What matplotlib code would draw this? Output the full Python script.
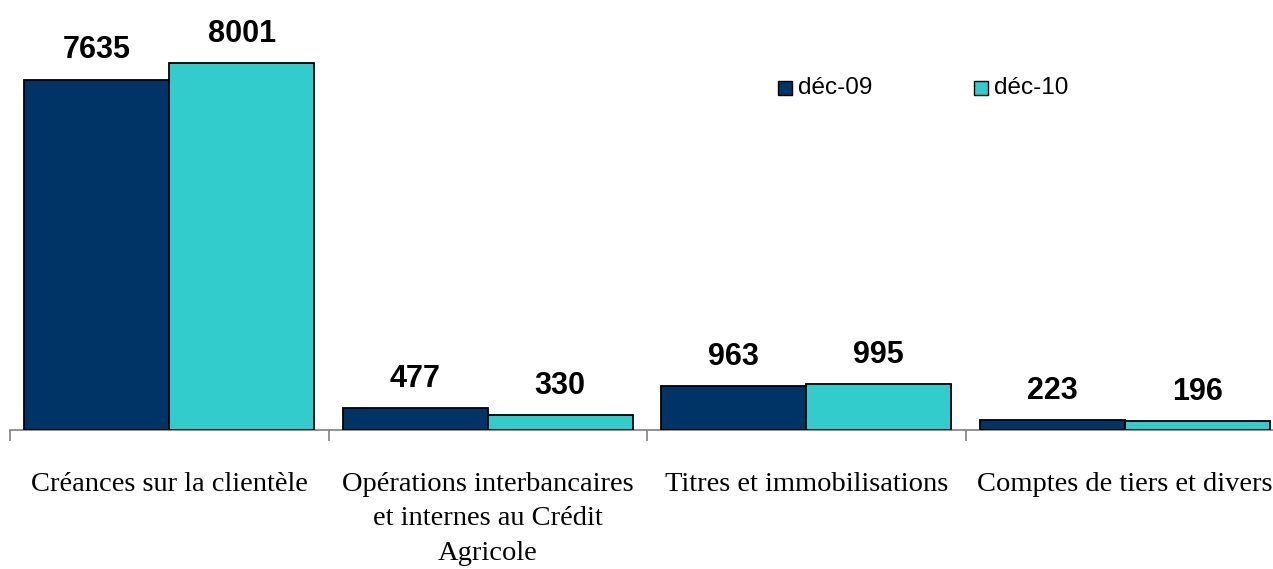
import matplotlib
matplotlib.use("Agg")
import matplotlib.pyplot as plt
import numpy as np
from matplotlib.patches import Rectangle

categories = ["Créances sur la clientèle",
              "Opérations interbancaires\net internes au Crédit\nAgricole",
              "Titres et immobilisations",
              "Comptes de tiers et divers"]
series_names = ["déc-09", "déc-10"]
dec09 = [7635, 477, 963, 223]
dec10 = [8001, 330, 995, 196]
colors = ["#003366", "#33CCCC"]

W, H = 1273, 569
fig = plt.figure(figsize=(W / 100, H / 100), dpi=100)
ax = fig.add_axes([10 / W, 139 / H, 1274 / W, 413 / H])

x = np.arange(len(categories))
bw = 0.455
for vals, off, c in [(dec09, -bw / 2, colors[0]), (dec10, bw / 2, colors[1])]:
    bars = ax.bar(x + off, vals, width=bw, color=c, edgecolor="black", linewidth=1.3, zorder=3)
    for b, v in zip(bars, vals):
        ax.annotate(str(v), (b.get_x() + b.get_width() / 2, v), xytext=(0, 23.5),
                    textcoords="offset points", ha="center", va="center_baseline",
                    fontsize=22, fontweight="bold", family="Liberation Sans")

ax.set_xlim(-0.5, 3.5)
ax.set_ylim(0, 9000)
for s in ["top", "right", "left"]:
    ax.spines[s].set_visible(False)
ax.spines["bottom"].set_color("#808080")
ax.spines["bottom"].set_linewidth(1.2)
ax.set_yticks([])
ax.set_xticks(np.arange(-0.5, 3.6, 1.0))
ax.set_xticklabels([])
ax.tick_params(axis="x", which="major", direction="out", length=8, width=1.2, color="#808080")
ax.set_xticks(x, minor=True)
ax.set_xticklabels(categories, minor=True, fontsize=20.5, family="Liberation Serif", linespacing=1.5)
ax.tick_params(axis="x", which="minor", length=0, pad=30)

# legend drawn manually (squares + text) in figure pixels
for name, c, sx in [(series_names[0], colors[0], 778), (series_names[1], colors[1], 974)]:
    fig.patches.append(Rectangle((sx / W, 1 - 95 / H), 14 / W, 14 / H, transform=fig.transFigure,
                                 facecolor=c, edgecolor="black", linewidth=1.0))
    fig.text((sx + 20) / W, 1 - 88 / H, name, ha="left", va="center",
             fontsize=17.5, family="Liberation Sans")

fig.savefig("out.png", dpi=100)
